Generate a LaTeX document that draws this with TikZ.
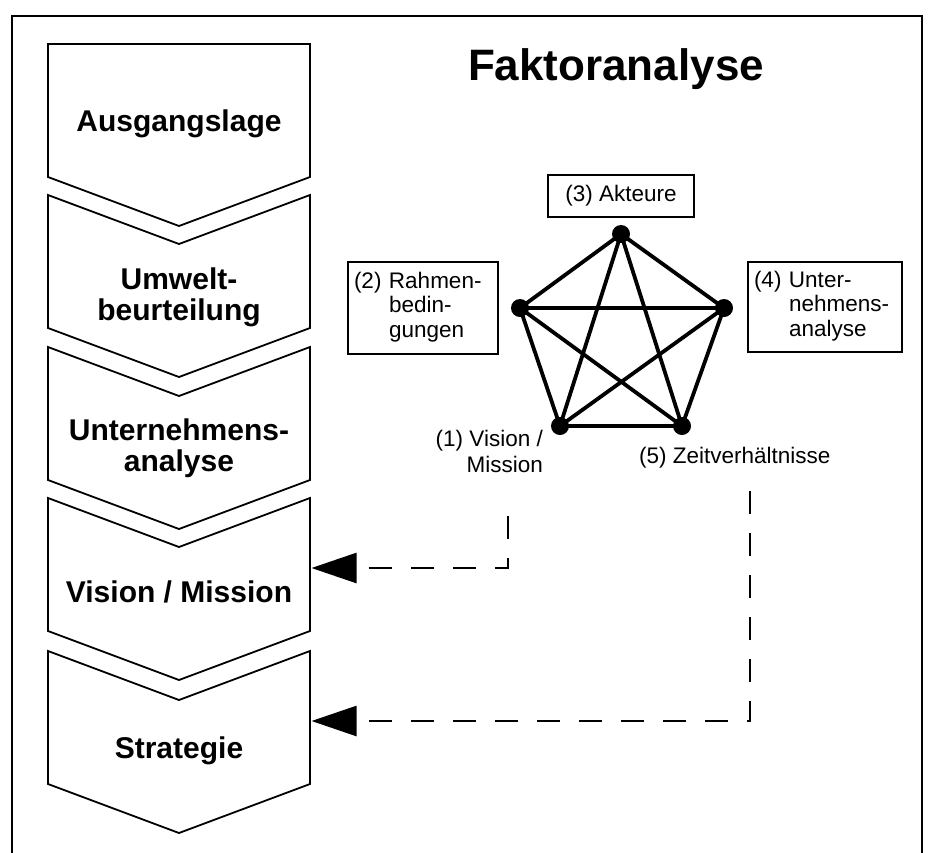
\documentclass[tikz,border=0pt]{standalone}
\usepackage{fontspec}
\setmainfont{Liberation Sans}
\usetikzlibrary{arrows.meta}
\begin{document}
\begin{tikzpicture}[x=1pt,y=-1pt,
  chev/.style={draw=black, line width=1.8pt, line join=miter, fill=white},
  chevtext/.style={font=\bfseries\fontsize{30}{31}\selectfont, inner sep=0pt, anchor=base},
  lbl/.style={font=\fontsize{22.5}{26}\selectfont, inner sep=0pt},
  lblbox/.style={draw=black, line width=1.6pt, font=\fontsize{22.5}{24.5}\selectfont, inner xsep=6pt, inner ysep=0pt},
  edge/.style={line width=3.8pt, line cap=round},
  dot/.style={circle, fill=black, minimum size=18pt, inner sep=0pt},
  feedback/.style={line width=2.5pt, dash pattern=on 23pt off 19pt, dash phase=29pt, {Triangle[length=45pt, width=30pt]}-},
  frame/.style={line width=2pt}
]
\useasboundingbox (0,0) rectangle (935,852);
\clip (0,0) rectangle (935,852);

% outer frame (open at the bottom, cropped)
\draw[frame] (12,870) -- (12,16) -- (922,16) -- (922,870);

% title
\node[font=\bfseries\fontsize{44}{44}\selectfont, anchor=base, inner sep=0pt] (title) at (616,80) {Faktoranalyse};

% chevron steps
\draw[chev] (48,44) -- (310,44) -- (310,177) -- (179,226) -- (48,177) -- cycle;
\foreach \t in {195,347,498,651}{
  \draw[chev] (48,\t) -- (179,\t+49) -- (310,\t) -- (310,\t+133) -- (179,\t+182) -- (48,\t+133) -- cycle;
}
\node[chevtext] (s1) at (179,131) {Ausgangslage};
\node[chevtext] (s2) at (179,289) {\begin{tabular}[t]{@{}c@{}}Umwelt-\\beurteilung\end{tabular}};
\node[chevtext] (s3) at (179,440) {\begin{tabular}[t]{@{}c@{}}Unternehmens-\\analyse\end{tabular}};
\node[chevtext] (s4) at (179,602) {Vision / Mission};
\node[chevtext] (s5) at (179,758) {Strategie};

% pentagon
\coordinate (P1) at (560,426);
\coordinate (P2) at (520,308);
\coordinate (P3) at (621,234);
\coordinate (P4) at (724,308);
\coordinate (P5) at (682,426);
\foreach \a/\b in {1/2,1/3,1/4,1/5,2/3,2/4,2/5,3/4,3/5,4/5}{
  \draw[edge] (P\a) -- (P\b);
}
\foreach \i in {1,...,5}{
  \node[dot] (d\i) at (P\i) {};
}

% labels
\node[lblbox, minimum width=146pt, minimum height=42pt] (akt) at (621,196) {(3) Akteure};
\node[lblbox, text width=138pt, minimum height=92pt] (rb) at (423,308)
  {\begin{tabular}{@{}l@{ }l@{}}(2)&Rahmen-\\&bedin-\\&gungen\end{tabular}};
\node[lblbox, text width=142pt, minimum height=90pt] (ua) at (825,307)
  {\begin{tabular}{@{}l@{ }l@{}}(4)&Unter-\\&nehmens-\\&analyse\end{tabular}};
\node[lbl, anchor=base east] (l1) at (543,446)
  {\begin{tabular}[t]{@{}r@{}}(1) Vision /\\Mission\end{tabular}};
\node[lbl, anchor=base west] (l5) at (639,463) {(5) Zeitverhältnisse};

% feedback connectors
\coordinate (visR) at (311.5,568);
\coordinate (strR) at (311.5,721);
\coordinate (f1) at (508,499);
\coordinate (f5) at (750,478);
\draw[feedback] (visR) -| (f1);
\draw[feedback] (strR) -| (f5);
\end{tikzpicture}
\end{document}
